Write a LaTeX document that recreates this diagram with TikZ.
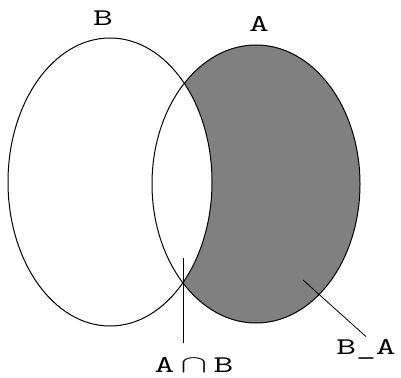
\documentclass[tikz,border=0pt]{standalone}
\usepackage{tikz}
\newcommand\stretchtxt[1]{\scalebox{1.6}[1]{#1}}
\begin{document}
\begin{tikzpicture}[x=1pt, y=-1pt, line width=1pt,
  setlab/.style={font=\ttfamily\fontsize{24}{24}\selectfont, inner sep=2pt}]
  \useasboundingbox (0,0) rectangle (401,377);
  % --- the two sets (pixel coords, y grows downward) ---
  \coordinate (cB) at (110,182);
  \coordinate (cA) at (256,184);
  \fill[gray] (cA) ellipse [x radius=104, y radius=139];  % A
  \fill[white] (cB) ellipse [x radius=102, y radius=144]; % cut B out of A
  \draw (cB) ellipse [x radius=102, y radius=144];
  \draw (cA) ellipse [x radius=104, y radius=139];
  % --- set names ---
  \node[setlab] (nameB) at (103,18) {\stretchtxt{B}};
  \node[setlab] (nameA) at (259,24) {\stretchtxt{A}};
  % --- pointer labels ---
  \node[setlab, outer sep=13pt] (labAB) at (194,365) {\stretchtxt{A\,$\cap$\,B}};
  \node[setlab] (labBA) at (366,349) {\stretchtxt{B\_A}};
  \coordinate (capTip) at (183,258);
  \coordinate (diffTip) at (303,280);
  \draw[line width=0.8pt] (capTip) -- (capTip |- labAB.north);
  \draw[line width=0.8pt] (diffTip) -- (labBA.north);
\end{tikzpicture}
\end{document}
